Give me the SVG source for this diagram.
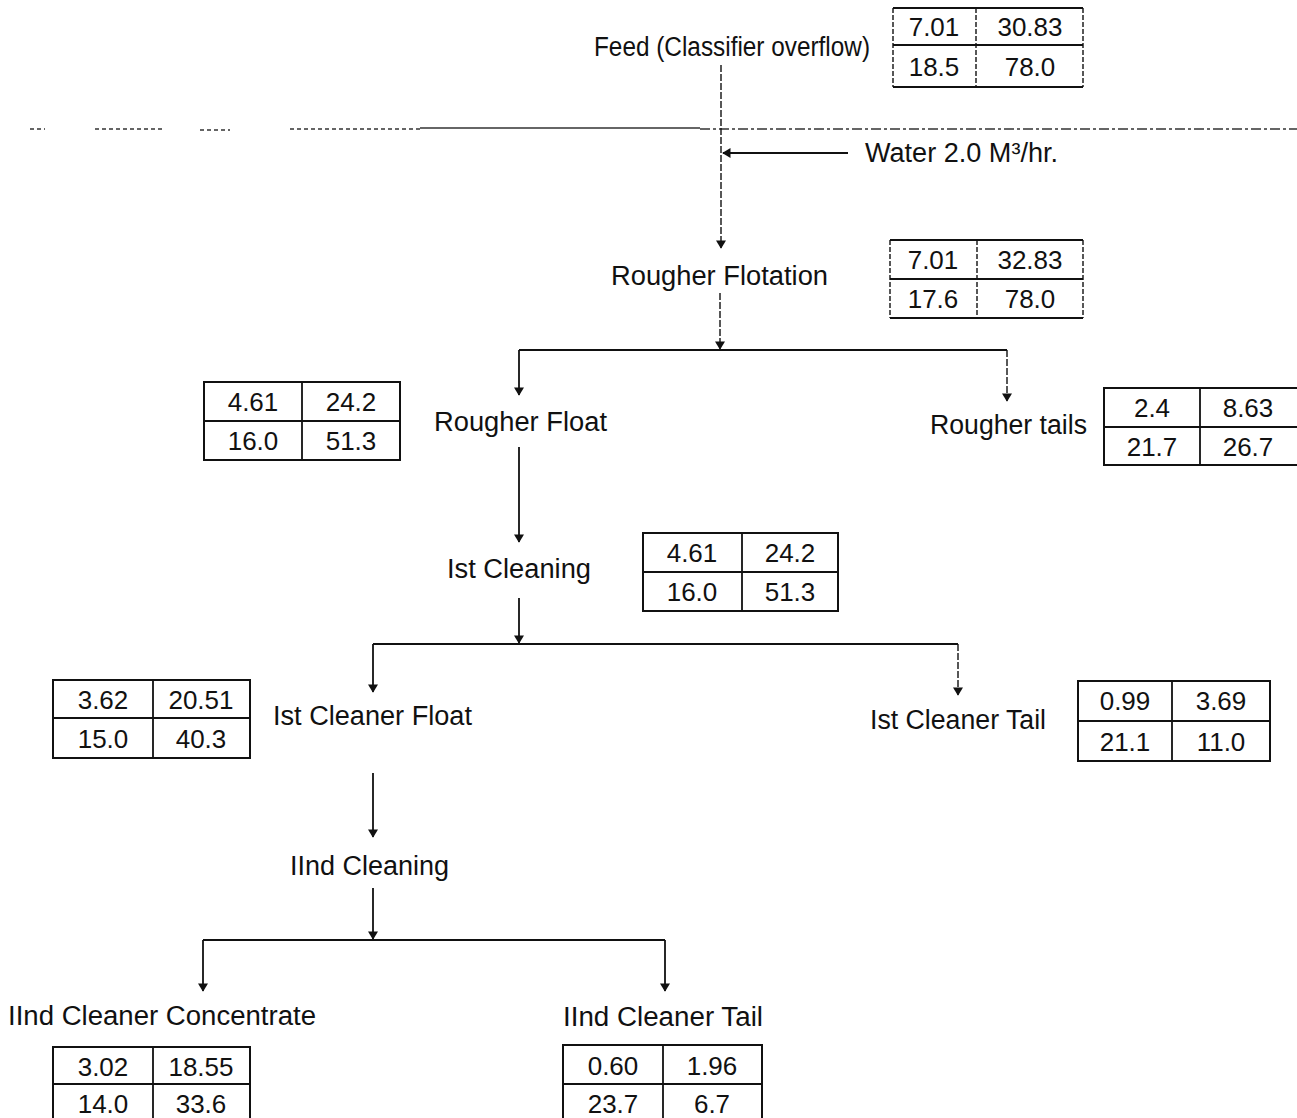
<svg xmlns="http://www.w3.org/2000/svg" width="1297" height="1118" viewBox="0 0 1297 1118">
<style>
text{font-family:"Liberation Sans",Arial,sans-serif;fill:#111;}
.lbl{font-size:27px;}
.num{font-size:26px;text-anchor:middle;}
.tb{fill:none;stroke:#111;stroke-width:2;}
.tl{stroke:#111;stroke-width:1.8;}
.tv{stroke:#111;stroke-width:1.4;stroke-dasharray:5 2;}
.c{fill:none;stroke:#111;stroke-width:1.8;}
.d{fill:none;stroke:#111;stroke-width:1.4;stroke-dasharray:7 2;}
.scan{fill:none;stroke:#333;stroke-width:1.4;}
</style>
<defs>
<marker id="ah" viewBox="0 0 10 12" refX="9" refY="6" markerWidth="11" markerHeight="10" markerUnits="userSpaceOnUse" orient="auto">
<path d="M0,0 L10,6 L0,12 z" fill="#111"/>
</marker>
</defs>
<rect width="1297" height="1118" fill="#fff"/>

<g id="scanline">
<path class="scan" d="M30,129 H45 M95,129 H165 M200,130 H230 M290,129 H420" stroke-dasharray="4 3"/>
<path class="scan" d="M420,128 H700" stroke-width="2"/>
<path class="scan" d="M700,129 H1297" stroke-dasharray="10 3 3 3"/>
</g>

<g id="connectors">
<path class="d" d="M721,65 V248" marker-end="url(#ah)"/>
<path class="c" d="M848,153 H723" stroke-width="2.2" marker-end="url(#ah)"/>
<path class="d" d="M720,293 V349" marker-end="url(#ah)"/>
<path class="c" d="M519,350 H1007"/>
<path class="c" d="M519,350 V395" marker-end="url(#ah)"/>
<path class="d" d="M1007,350 V401" marker-end="url(#ah)"/>
<path class="c" d="M519,447 V542" marker-end="url(#ah)"/>
<path class="c" d="M519,598 V643" marker-end="url(#ah)"/>
<path class="c" d="M373,644 H958"/>
<path class="c" d="M373,644 V692" marker-end="url(#ah)"/>
<path class="d" d="M958,644 V695" marker-end="url(#ah)"/>
<path class="c" d="M373,773 V837" marker-end="url(#ah)"/>
<path class="c" d="M373,888 V939" marker-end="url(#ah)"/>
<path class="c" d="M203,940 H665"/>
<path class="c" d="M203,940 V991" marker-end="url(#ah)"/>
<path class="c" d="M665,940 V991" marker-end="url(#ah)"/>
</g>

<g id="feed">
<text class="lbl" x="594" y="56" textLength="276" lengthAdjust="spacingAndGlyphs">Feed (Classifier overflow)</text>
</g>
<g id="feed-table">
<path class="tl" d="M893,8 H1083 M893,45 H1083 M893,87 H1083"/>
<path class="tv" d="M893,8 V87 M976,8 V87 M1083,8 V87"/>
<text class="num" x="934" y="36">7.01</text><text class="num" x="1030" y="36">30.83</text>
<text class="num" x="934" y="76">18.5</text><text class="num" x="1030" y="76">78.0</text>
</g>

<g id="water">
<text class="lbl" x="865" y="162" textLength="193" lengthAdjust="spacingAndGlyphs">Water 2.0 M³/hr.</text>
</g>

<g id="rougher-flotation">
<text class="lbl" x="611" y="285" textLength="217" lengthAdjust="spacingAndGlyphs">Rougher Flotation</text>
</g>
<g id="rf-table">
<path class="tl" d="M890,240 H1083 M890,279 H1083 M890,318 H1083"/>
<path class="tv" d="M890,240 V318 M977,240 V318 M1083,240 V318"/>
<text class="num" x="933" y="269">7.01</text><text class="num" x="1030" y="269">32.83</text>
<text class="num" x="933" y="308">17.6</text><text class="num" x="1030" y="308">78.0</text>
</g>

<g id="rougher-float">
<text class="lbl" x="434" y="431" textLength="173" lengthAdjust="spacingAndGlyphs">Rougher Float</text>
</g>
<g id="rfl-table">
<rect class="tb" x="204" y="382" width="196" height="78"/>
<path class="tl" d="M204,421 H400 M302,382 V460"/>
<text class="num" x="253" y="411">4.61</text><text class="num" x="351" y="411">24.2</text>
<text class="num" x="253" y="450">16.0</text><text class="num" x="351" y="450">51.3</text>
</g>

<g id="rougher-tails">
<text class="lbl" x="930" y="434" textLength="157" lengthAdjust="spacingAndGlyphs">Rougher tails</text>
</g>
<g id="rt-table">
<rect class="tb" x="1104" y="388" width="200" height="77"/>
<path class="tl" d="M1104,427 H1304 M1200,388 V465"/>
<text class="num" x="1152" y="417">2.4</text><text class="num" x="1248" y="417">8.63</text>
<text class="num" x="1152" y="456">21.7</text><text class="num" x="1248" y="456">26.7</text>
</g>

<g id="ist-cleaning">
<text class="lbl" x="447" y="578" textLength="144" lengthAdjust="spacingAndGlyphs">Ist Cleaning</text>
</g>
<g id="ic-table">
<rect class="tb" x="643" y="533" width="195" height="78"/>
<path class="tl" d="M643,572 H838 M742,533 V611"/>
<text class="num" x="692" y="562">4.61</text><text class="num" x="790" y="562">24.2</text>
<text class="num" x="692" y="601">16.0</text><text class="num" x="790" y="601">51.3</text>
</g>

<g id="ist-cleaner-float">
<text class="lbl" x="273" y="725" textLength="199" lengthAdjust="spacingAndGlyphs">Ist Cleaner Float</text>
</g>
<g id="icf-table">
<rect class="tb" x="53" y="680" width="197" height="78"/>
<path class="tl" d="M53,718 H250 M153,680 V758"/>
<text class="num" x="103" y="709">3.62</text><text class="num" x="201" y="709">20.51</text>
<text class="num" x="103" y="748">15.0</text><text class="num" x="201" y="748">40.3</text>
</g>

<g id="ist-cleaner-tail">
<text class="lbl" x="870" y="729" textLength="176" lengthAdjust="spacingAndGlyphs">Ist Cleaner Tail</text>
</g>
<g id="ict-table">
<rect class="tb" x="1078" y="681" width="192" height="80"/>
<path class="tl" d="M1078,721 H1270 M1172,681 V761"/>
<text class="num" x="1125" y="710">0.99</text><text class="num" x="1221" y="710">3.69</text>
<text class="num" x="1125" y="751">21.1</text><text class="num" x="1221" y="751">11.0</text>
</g>

<g id="iind-cleaning">
<text class="lbl" x="290" y="875" textLength="159" lengthAdjust="spacingAndGlyphs">IInd Cleaning</text>
</g>

<g id="iind-cleaner-concentrate">
<text class="lbl" x="8" y="1025" textLength="308" lengthAdjust="spacingAndGlyphs">IInd Cleaner Concentrate</text>
</g>
<g id="icc-table">
<rect class="tb" x="53" y="1047" width="197" height="80"/>
<path class="tl" d="M53,1084 H250 M153,1047 V1127"/>
<text class="num" x="103" y="1076">3.02</text><text class="num" x="201" y="1076">18.55</text>
<text class="num" x="103" y="1113">14.0</text><text class="num" x="201" y="1113">33.6</text>
</g>

<g id="iind-cleaner-tail">
<text class="lbl" x="563" y="1026" textLength="200" lengthAdjust="spacingAndGlyphs">IInd Cleaner Tail</text>
</g>
<g id="ict2-table">
<rect class="tb" x="563" y="1045" width="199" height="82"/>
<path class="tl" d="M563,1084 H762 M663,1045 V1127"/>
<text class="num" x="613" y="1075">0.60</text><text class="num" x="712" y="1075">1.96</text>
<text class="num" x="613" y="1113">23.7</text><text class="num" x="712" y="1113">6.7</text>
</g>
</svg>
